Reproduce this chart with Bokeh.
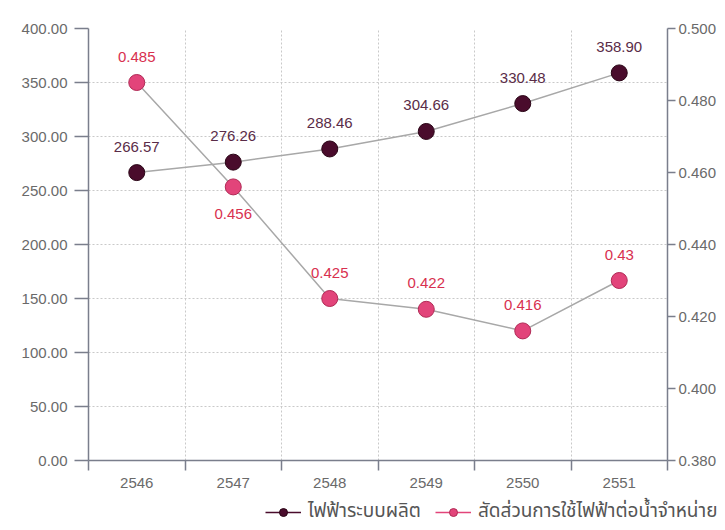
from bokeh.plotting import figure
from bokeh.models import (Range1d, LinearAxis, FixedTicker, NumeralTickFormatter,
                          Legend, LegendItem)
from bokeh.core.properties import value
from bokeh.embed import file_html
from bokeh.resources import INLINE

years = ["2546", "2547", "2548", "2549", "2550", "2551"]
generation = [266.57, 276.26, 288.46, 304.66, 330.48, 358.90]
ratio = [0.485, 0.456, 0.425, 0.422, 0.416, 0.43]
left_ticks = [0, 50, 100, 150, 200, 250, 300, 350, 400]
right_ticks = [0.38, 0.40, 0.42, 0.44, 0.46, 0.48, 0.50]
series_names = ["ไฟฟ้าระบบผลิต", "สัดส่วนการใช้ไฟฟ้าต่อน้ำจำหน่าย"]
ratio_labels_below = ["2547"]

FONT = "Liberation Sans"
AXIS_C = "#7a7e8c"
TICK_TXT = "#6a6a6a"
DARK = "#4a0c2c"
PINK = "#e2447a"
DARK_TXT = "#5a2c48"
PINK_TXT = "#d8304f"
LINE_C = "#a8a8a8"
GRID_C = "#c9c9c9"

n = len(years)
xc = [i + 0.5 for i in range(n)]
bounds = list(range(n + 1))

p = figure(width=725, height=494, output_backend="svg", toolbar_location=None,
           x_range=Range1d(0, n), y_range=Range1d(left_ticks[0], left_ticks[-1]),
           min_border_left=88, min_border_right=58, min_border_top=28, min_border_bottom=34)
p.outline_line_color = None
p.background_fill_color = "white"
p.border_fill_color = "white"
p.extra_y_ranges = {"ratio": Range1d(right_ticks[0], right_ticks[-1])}

# x axis
xt = FixedTicker(ticks=xc, minor_ticks=bounds)
xa = p.xaxis[0]
xa.ticker = xt
xa.major_label_overrides = {x: y for x, y in zip(xc, years)}
xa.major_tick_line_color = None
xa.major_tick_out = 10
xa.minor_tick_out = 10
xa.minor_tick_in = 0
xa.minor_tick_line_color = AXIS_C
xa.minor_tick_line_width = 1.5
xa.axis_line_color = AXIS_C
xa.axis_line_width = 1.5
xa.major_label_standoff = 7
xa.major_label_text_font = FONT
xa.major_label_text_font_size = "15px"
xa.major_label_text_color = TICK_TXT

# left axis
ya = p.yaxis[0]
ya.ticker = FixedTicker(ticks=left_ticks)
ya.formatter = NumeralTickFormatter(format="0.00")
ya.minor_tick_line_color = None
ya.major_tick_out = 14
ya.major_tick_in = 0
ya.major_tick_line_color = AXIS_C
ya.major_tick_line_width = 1.5
ya.axis_line_color = AXIS_C
ya.axis_line_width = 1.5
ya.major_label_standoff = 7
ya.major_label_text_font = FONT
ya.major_label_text_font_size = "15px"
ya.major_label_text_color = TICK_TXT

# right axis
ra = LinearAxis(y_range_name="ratio", ticker=FixedTicker(ticks=right_ticks),
                formatter=NumeralTickFormatter(format="0.000"))
ra.minor_tick_line_color = None
ra.major_tick_out = 8
ra.major_tick_in = 0
ra.major_tick_line_color = AXIS_C
ra.major_tick_line_width = 1.5
ra.axis_line_color = AXIS_C
ra.axis_line_width = 1.5
ra.major_label_standoff = 3
ra.major_label_text_font = FONT
ra.major_label_text_font_size = "15px"
ra.major_label_text_color = TICK_TXT
p.add_layout(ra, "right")

# grids
p.xgrid.ticker = xt
p.xgrid.grid_line_color = None
p.xgrid.minor_grid_line_color = GRID_C
p.xgrid.minor_grid_line_dash = "2 2"
p.ygrid.ticker = FixedTicker(ticks=left_ticks)
p.ygrid.grid_line_color = GRID_C
p.ygrid.grid_line_dash = "2 2"

# series
p.line(xc, generation, color=LINE_C, line_width=1.5)
p.line(xc, ratio, color=LINE_C, line_width=1.5, y_range_name="ratio")
p.scatter(xc, generation, size=16, fill_color=DARK, line_color="#2a0516", line_width=1)
p.scatter(xc, ratio, size=16, fill_color=PINK, line_color="#b02a55", line_width=1,
          y_range_name="ratio")

p.text(xc, generation, text=[f"{v:.2f}" for v in generation], text_align="center",
       text_baseline="middle", y_offset=-26, text_font=value(FONT),
       text_font_size="15px", text_color=DARK_TXT)
r_off = [27 if y in ratio_labels_below else -26 for y in years]
p.text(xc, ratio, text=[str(v) for v in ratio], text_align="center",
       text_baseline="middle", y_offset=r_off, text_font=value(FONT),
       text_font_size="15px", text_color=PINK_TXT, y_range_name="ratio")

# legend strip: a separate small figure below the chart; its series lie
# outside its own (0..1) view so that only the legend entries are visible
lf = figure(width=725, height=36, output_backend="svg", toolbar_location=None,
            x_range=Range1d(0, 1), y_range=Range1d(0, 1),
            x_axis_location=None, y_axis_location=None, min_border=0)
lf.outline_line_color = None
lf.grid.visible = False
l1 = lf.line(xc, generation, color=DARK, line_width=1.5)
m1 = lf.scatter(xc, generation, size=10, fill_color=DARK, line_color="#2a0516", line_width=1)
l2 = lf.line(xc, [v * 1000 for v in ratio], color=PINK, line_width=1.5)
m2 = lf.scatter(xc, [v * 1000 for v in ratio], size=10, fill_color=PINK,
                line_color="#b02a55", line_width=1)
legend = Legend(items=[LegendItem(label=series_names[0], renderers=[l1, m1]),
                       LegendItem(label=series_names[1], renderers=[l2, m2])],
                orientation="horizontal", location=(265, 4),
                border_line_color=None, background_fill_alpha=0,
                padding=0, margin=0, spacing=14, glyph_width=36, glyph_height=20,
                label_standoff=7, label_text_font="Noto Sans Thai",
                label_text_font_size="19px", label_text_color="#555555")
lf.add_layout(legend)

open("out.html", "w").write(file_html([p, lf], INLINE))
